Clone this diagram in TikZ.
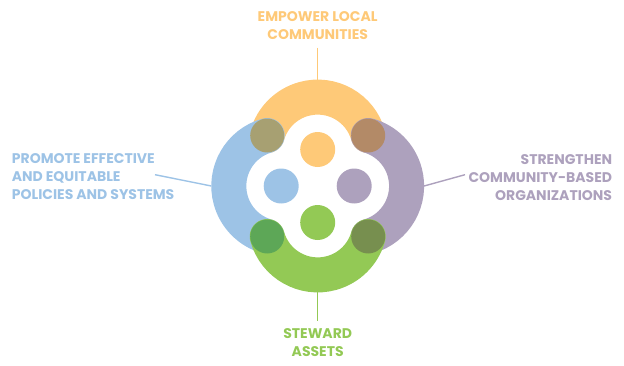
\documentclass[tikz,border=0pt]{standalone}
\usepackage{fontspec}
\setmainfont{Poppins}
\usetikzlibrary{calc}
\definecolor{cy}{HTML}{FEC978}
\definecolor{cb}{HTML}{9DC3E6}
\definecolor{cp}{HTML}{ADA1BD}
\definecolor{cg}{HTML}{93C955}
\definecolor{cyb}{HTML}{A7A072}
\definecolor{cyp}{HTML}{B38A67}
\definecolor{cbg}{HTML}{5DA757}
\definecolor{cpg}{HTML}{778F4F}
\begin{document}
\begin{tikzpicture}[x=1pt,y=1pt,
  ring/.style={line width=35pt,line cap=round},
  dot/.style={circle,inner sep=0pt,minimum size=35pt},
  cdot/.style={circle,inner sep=0pt,minimum size=34pt},
  lbl/.style={inner sep=0pt,font=\bfseries\fontsize{14}{18}\selectfont},
  conn/.style={line width=1.4pt}]
\useasboundingbox (0,0) rectangle (624,365);
\def\dd{36.5}
\def\aa{50.5}
\def\rr{52.4}
\coordinate (C) at (317.7,179);
% arc centres
\coordinate (Yc) at ($(C)+(0,\dd)$);
\coordinate (Bc) at ($(C)+(-\dd,0)$);
\coordinate (Gc) at ($(C)+(0,-\dd)$);
\coordinate (Pc) at ($(C)+(\dd,0)$);
% rings
\draw[ring,cy] (Yc) ++(15.5:\rr) arc[start angle=15.5,end angle=164.5,radius=\rr];
\draw[ring,cb] (Bc) ++(105.5:\rr) arc[start angle=105.5,end angle=254.5,radius=\rr];
\draw[ring,cp] (Pc) ++(-74.5:\rr) arc[start angle=-74.5,end angle=74.5,radius=\rr];
\draw[ring,cg] (Gc) ++(195.5:\rr) arc[start angle=195.5,end angle=344.5,radius=\rr];
% corner overlaps
\node[cdot,fill=cyb] (ul) at ($(C)+(-\aa,\aa)$) {};
\node[cdot,fill=cyp] (ur) at ($(C)+(\aa,\aa)$) {};
\node[cdot,fill=cbg] (ll) at ($(C)+(-\aa,-\aa)$) {};
\node[cdot,fill=cpg] (lr) at ($(C)+(\aa,-\aa)$) {};
% inner dots
\node[dot,fill=cy] (yd) at (Yc) {};
\node[dot,fill=cb] (bd) at (Bc) {};
\node[dot,fill=cp] (pd) at (Pc) {};
\node[dot,fill=cg] (gd) at (Gc) {};
% ring extremes
\coordinate (ytop) at ($(Yc)+(0,\rr+17.5)$);
\coordinate (bleft) at ($(Bc)+(-\rr-17.5,0)$);
\coordinate (pright) at ($(Pc)+(\rr+17.5,0)$);
\coordinate (gbot) at ($(Gc)+(0,-\rr-17.5)$);
% labels
\node[lbl,text=cy,align=center,anchor=north] (tt) at (317.7,353.3) {EMPOWER LOCAL\\COMMUNITIES};
\node[lbl,text=cb,align=left,anchor=north west] (lt) at (11.7,211.7) {PROMOTE EFFECTIVE\\AND EQUITABLE\\POLICIES AND SYSTEMS};
\node[lbl,text=cp,align=right,anchor=north east] (rt) at (612.3,211) {STRENGTHEN\\COMMUNITY-BASED\\ORGANIZATIONS};
\node[lbl,text=cg,align=center,anchor=north] (bt) at (317.7,36.7) {STEWARD\\ASSETS};
% connectors
\coordinate (ls) at (155,190.3);
\coordinate (rs) at (465,190.3);
\draw[conn,cy] ([yshift=-7.4pt]tt.south) -- (ytop);
\draw[conn,cb] (ls) -- (bleft);
\draw[conn,cp] (pright) -- (rs);
\draw[conn,cg] (gbot) -- ([yshift=7.4pt]bt.north);
\end{tikzpicture}
\end{document}
